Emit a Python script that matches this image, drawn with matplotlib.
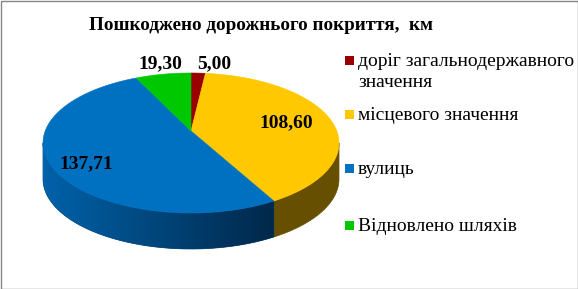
import numpy as np
import matplotlib
matplotlib.use("Agg")
import matplotlib.pyplot as plt
from matplotlib.patches import Polygon, Rectangle
from matplotlib.colors import LinearSegmentedColormap

# ---------------- data ----------------
title = "Пошкоджено дорожнього покриття,  км"
categories = ["доріг загальнодержавного\nзначення", "місцевого значення",
              "вулиць", "Відновлено шляхів"]
values = [5.00, 108.60, 137.71, 19.30]

# ---------------- style ----------------
top_colors = ["#9A0000", "#FFC800", "#0070C0", "#00C800"]
side_colors = ["#4D0000", "#665000", "#00457A", "#006400"]
blue_side_grad = ["#0062AA", "#00457A", "#00284A"]
label_r = [1.23, 0.68, 0.76, 1.23]
label_off = [(15, 2), (0, 0), (0, 8), (2, 0)]
legend_base = [66, 120, 174, 231]
serif = ["Liberation Serif", "DejaVu Serif"]

W, H = 578, 289
fig = plt.figure(figsize=(W / 100, H / 100), dpi=100)
ax = fig.add_axes([0, 0, 1, 1])
ax.set_xlim(0, W)
ax.set_ylim(H, 0)
ax.axis("off")

# perspective-like projection of the pie disc
cx, cy = 191, 131
a, k, p = 145.8, 67.94, 0.1714
depth = 36


def proj(theta, r=1.0):
    s, c = np.sin(theta), np.cos(theta)
    den = 1 + p * r * c
    return cx + a * r * s / den, cy - k * r * c / den


fracs = np.array(values) / sum(values)
bounds = np.concatenate([[0], np.cumsum(fracs)]) * 2 * np.pi
th_r = np.arccos(-p)
th_l = 2 * np.pi - th_r

# side walls
for i in range(len(values)):
    t0, t1 = max(bounds[i], th_r), min(bounds[i + 1], th_l)
    if t1 <= t0:
        continue
    t = np.linspace(t0, t1, 200)
    x, y = proj(t)
    xs = np.concatenate([x, x[::-1]])
    ys = np.concatenate([y, (y + depth)[::-1]])
    poly = Polygon(np.column_stack([xs, ys]), closed=True,
                   facecolor=side_colors[i], edgecolor=side_colors[i], lw=0.5, zorder=1)
    ax.add_patch(poly)
    if i == 2:
        cmap = LinearSegmentedColormap.from_list("bs", blue_side_grad)
        grad = np.linspace(0, 1, 256)[None, :]
        im = ax.imshow(grad, cmap=cmap, aspect="auto",
                       extent=[xs.min(), xs.max(), ys.max(), ys.min()], zorder=2)
        im.set_clip_path(poly)

# top surface
for i in range(len(values)):
    t = np.linspace(bounds[i], bounds[i + 1], 300)
    x, y = proj(t)
    xs = np.concatenate([[cx], x])
    ys = np.concatenate([[cy], y])
    ax.add_patch(Polygon(np.column_stack([xs, ys]), closed=True,
                         facecolor=top_colors[i], edgecolor=top_colors[i],
                         lw=0.4, zorder=3))

# data labels
for i, v in enumerate(values):
    tm = (bounds[i] + bounds[i + 1]) / 2
    lx, ly = proj(tm, label_r[i])
    ax.text(lx + label_off[i][0], ly + label_off[i][1], f"{v:.2f}".replace(".", ","),
            ha="center", va="center", fontsize=14, fontweight="bold",
            family=serif, color="black", zorder=5)

# title
ax.text(261, 30, title, ha="center", va="baseline", fontsize=13.8,
        fontweight="bold", family=serif, color="black")

# legend
for i, lab in enumerate(categories):
    ax.add_patch(Rectangle((345, legend_base[i] - 10.5), 9, 9,
                           facecolor=top_colors[i], edgecolor="none"))
    for j, line in enumerate(lab.split("\n")):
        ax.text(358, legend_base[i] + 21 * j, line, ha="left", va="baseline",
                fontsize=14.0, family=serif, color="black")

# chart border
ax.add_patch(Rectangle((0.5, 0.5), W - 1, H - 1, fill=False,
                       edgecolor="#868686", lw=1))

fig.savefig("out.png", dpi=100)
